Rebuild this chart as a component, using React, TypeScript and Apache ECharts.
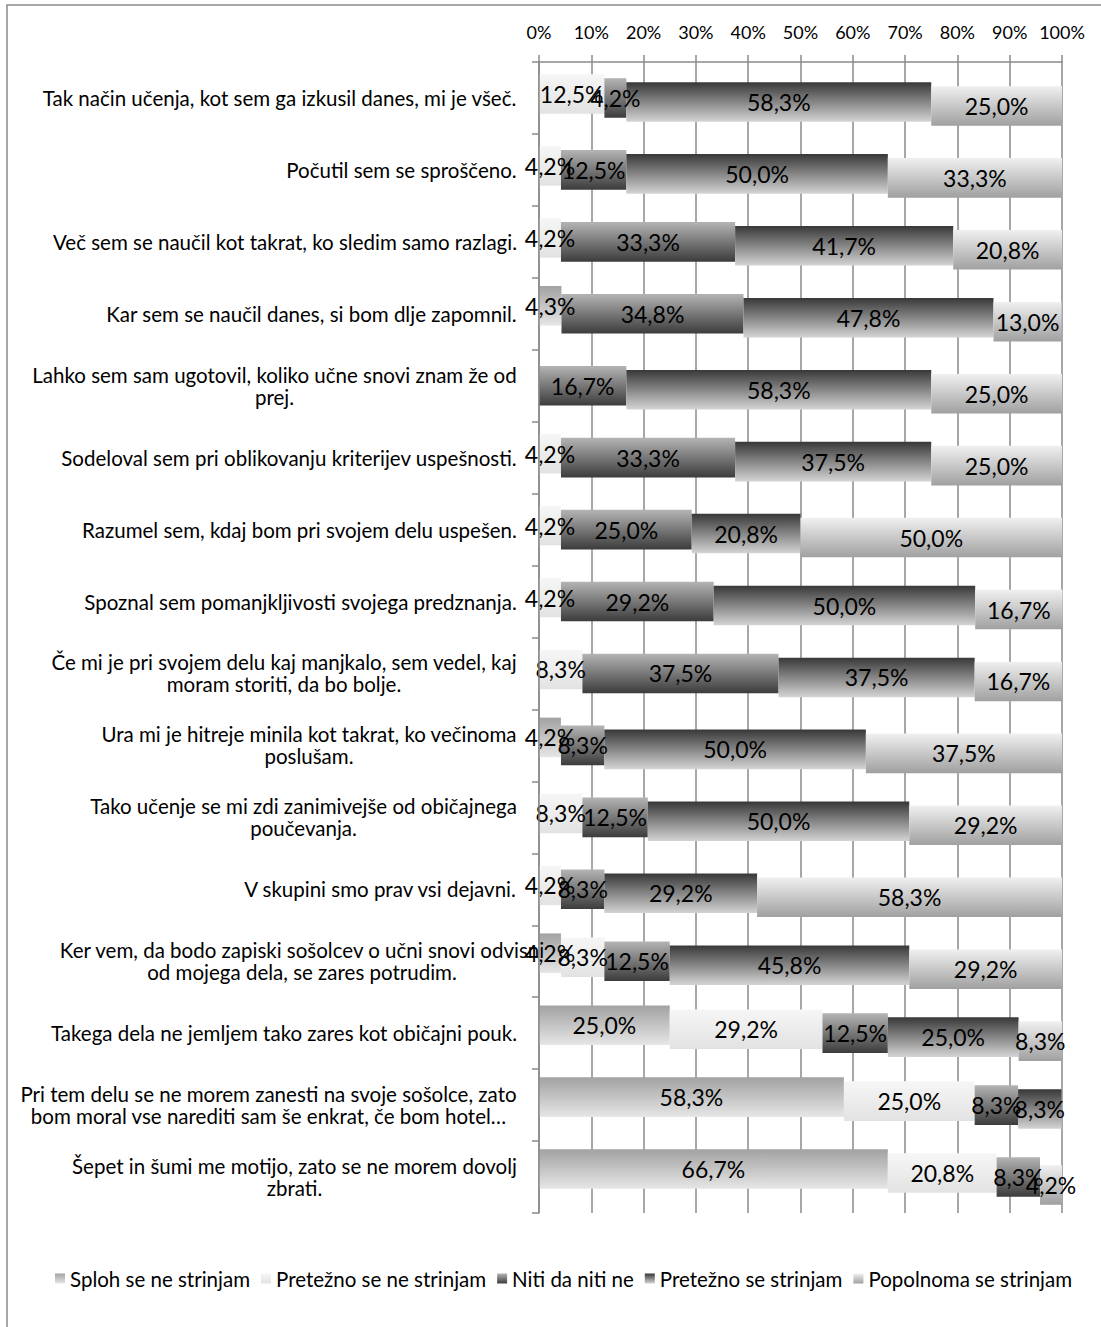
import React, { useEffect, useRef } from "react";
import * as echarts from "echarts";

const categories = [
  "Tak način učenja, kot sem ga izkusil danes, mi je všeč.",
  "Počutil sem se sproščeno.",
  "Več sem se naučil kot takrat, ko sledim samo razlagi.",
  "Kar sem se naučil danes, si bom dlje zapomnil.",
  "Lahko sem sam ugotovil, koliko učne snovi znam že od\nprej.",
  "Sodeloval sem pri oblikovanju kriterijev uspešnosti.",
  "Razumel sem, kdaj bom pri svojem delu uspešen.",
  "Spoznal sem pomanjkljivosti svojega predznanja.",
  "Če mi je pri svojem delu kaj manjkalo, sem vedel, kaj\nmoram storiti, da bo bolje.",
  "Ura mi je hitreje minila kot takrat, ko večinoma\nposlušam.",
  "Tako učenje se mi zdi zanimivejše od običajnega\npoučevanja.",
  "V skupini smo prav vsi dejavni.",
  "Ker vem, da bodo zapiski sošolcev o učni snovi odvisni\nod mojega dela, se zares potrudim.",
  "Takega dela ne jemljem tako zares kot običajni pouk.",
  "Pri tem delu se ne morem zanesti na svoje sošolce, zato\nbom moral vse narediti sam še enkrat, če bom hotel…",
  "Šepet in šumi me motijo, zato se ne morem dovolj\nzbrati.",
];

const seriesNames = [
  "Sploh se ne strinjam",
  "Pretežno se ne strinjam",
  "Niti da niti ne",
  "Pretežno se strinjam",
  "Popolnoma se strinjam",
];

const sploh = [0, 0, 0, 4.3, 0, 0, 0, 0, 0, 4.2, 0, 0, 4.2, 25.0, 58.3, 66.7];
const preteznoNe = [12.5, 4.2, 4.2, 0, 0, 4.2, 4.2, 4.2, 8.3, 0, 8.3, 4.2, 8.3, 29.2, 25.0, 20.8];
const niti = [4.2, 12.5, 33.3, 34.8, 16.7, 33.3, 25.0, 29.2, 37.5, 8.3, 12.5, 8.3, 12.5, 12.5, 8.3, 8.3];
const pretezno = [58.3, 50.0, 41.7, 47.8, 58.3, 37.5, 20.8, 50.0, 37.5, 50.0, 50.0, 29.2, 45.8, 25.0, 8.3, 0];
const popolnoma = [25.0, 33.3, 20.8, 13.0, 25.0, 25.0, 50.0, 16.7, 16.7, 37.5, 29.2, 58.3, 29.2, 8.3, 0, 4.2];

const xTicks = [0, 10, 20, 30, 40, 50, 60, 70, 80, 90, 100];

const allSeries = [sploh, preteznoNe, niti, pretezno, popolnoma];

// styling
const FONT = "Lato";
const CAT_SIZE = 20.5;
const gradStops = [
  ["#a2a2a2", "#e6e6e6"],
  ["#f6f6f6", "#e2e2e2"],
  ["#b4b4b4", "#3c3c3c"],
  ["#383838", "#d4d4d4"],
  ["#f0f0f0", "#a0a0a0"],
];
const OFFSETS = [-8, -4, 0, 4, 8];

const grad = (k: number) =>
  new echarts.graphic.LinearGradient(0, 0, 0, 1, [
    { offset: 0, color: gradStops[k][0] },
    { offset: 1, color: gradStops[k][1] },
  ]);

const fmt = (v: number) => v.toFixed(1).replace(".", ",") + "%";

export default function App() {
  const ref = useRef<HTMLDivElement>(null);
  useEffect(() => {
    if (!ref.current) return;
    const chart = echarts.init(ref.current, null, { renderer: "svg" });

    // measure label lines for centered multi-line category labels
    const canvas = document.createElement("canvas");
    const ctx = canvas.getContext("2d")!;
    ctx.font = `${CAT_SIZE}px ${FONT}`;
    const rich: any = {};
    categories.forEach((c, i) => {
      const lines = c.split("\n");
      let w = Math.max(...lines.map((l) => ctx.measureText(l).width));
      if (i === 12) w = w - 56;
      rich["c" + i] = {
        width: Math.ceil(w),
        align: "center",
        fontSize: CAT_SIZE,
        fontFamily: FONT,
        color: "#000",
        lineHeight: 22,
      };
    });

    // stacked segments
    const segs: number[][][] = allSeries.map(() => []);
    const labelData: number[][] = [];
    categories.forEach((_, i) => {
      let acc = 0;
      allSeries.forEach((arr, k) => {
        const v = arr[i];
        if (v > 0) {
          segs[k].push([i, acc, acc + v, v]);
          labelData.push([i, acc, acc + v, v, k]);
        }
        acc += v;
      });
    });

    const barSeries = allSeries.map((_, k) => ({
      type: "custom",
      name: seriesNames[k],
      itemStyle: { color: grad(k) },
      encode: { x: [1, 2], y: 0 },
      z: 2,
      silent: true,
      data: segs[k],
      renderItem: (params: any, api: any) => {
        const i = api.value(0);
        const a = api.value(1);
        const b = api.value(2);
        const p0 = api.coord([a, i]);
        const p1 = api.coord([b, i]);
        const band = api.size([0, 1])[1];
        const h = band * 0.55;
        const y = p0[1] - h / 2 + (OFFSETS[k] * band) / 72;
        return {
          type: "rect",
          shape: { x: p0[0], y, width: p1[0] - p0[0], height: h },
          style: { fill: grad(k) },
        };
      },
    }));

    const labelSeries = {
      type: "custom",
      name: "labels",
      encode: { x: [1, 2], y: 0 },
      z: 5,
      silent: true,
      data: labelData,
      renderItem: (params: any, api: any) => {
        const i = api.value(0);
        const a = api.value(1);
        const b = api.value(2);
        const v = api.value(3);
        const k = api.value(4);
        const p = api.coord([(a + b) / 2, i]);
        const band = api.size([0, 1])[1];
        return {
          type: "text",
          x: p[0],
          y: p[1] + (OFFSETS[k] * band) / 72,
          style: {
            text: fmt(v),
            fill: "#000",
            font: `23px ${FONT}`,
            align: "center",
            verticalAlign: "middle",
          },
        };
      },
    };

    chart.setOption({
      animation: false,
      grid: { left: 539, top: 62, right: 39, bottom: 114, containLabel: false },
      xAxis: {
        type: "value",
        position: "top",
        min: 0,
        max: 100,
        interval: 10,
        axisLine: { show: true, lineStyle: { color: "#8a8a8a", width: 1.5 } },
        axisTick: { show: true, length: 7, lineStyle: { color: "#8a8a8a", width: 1.5 } },
        splitLine: { show: true, lineStyle: { color: "#8a8a8a", width: 1.5 } },
        axisLabel: {
          formatter: (v: number) => (xTicks.includes(v) ? v + "%" : ""),
          fontSize: 18,
          fontFamily: FONT,
          color: "#000",
          margin: 21,
        },
      },
      yAxis: {
        type: "category",
        inverse: true,
        z: 10,
        data: categories,
        axisLine: { show: true, lineStyle: { color: "#8a8a8a", width: 1.5 } },
        axisTick: { show: true, length: 7, lineStyle: { color: "#8a8a8a", width: 1.5 } },
        splitLine: { show: false },
        axisLabel: {
          margin: 22,
          fontSize: CAT_SIZE,
          fontFamily: FONT,
          color: "#000",
          lineHeight: 22,
          interval: 0,
          formatter: (value: string, index: number) =>
            value
              .split("\n")
              .map((l) => `{c${index}|${l}}`)
              .join("\n"),
          rich,
        },
      },
      legend: {
        data: seriesNames,
        left: 50,
        top: 1263,
        icon: "rect",
        itemWidth: 10,
        itemHeight: 10,
        itemGap: 11,
        textStyle: { fontSize: 20.5, fontFamily: FONT, color: "#000" },
      },
      graphic: [
        {
          type: "rect",
          shape: { x: 7, y: 5, width: 1200, height: 1400 },
          style: { fill: "none", stroke: "#8a8a8a", lineWidth: 1.5 },
          silent: true,
        },
      ],
      series: [...barSeries, labelSeries],
    });

    return () => chart.dispose();
  }, []);

  return (
    <div
      ref={ref}
      style={{ position: "absolute", left: 0, top: 0, width: 1101, height: 1327, background: "#fff" }}
    />
  );
}
